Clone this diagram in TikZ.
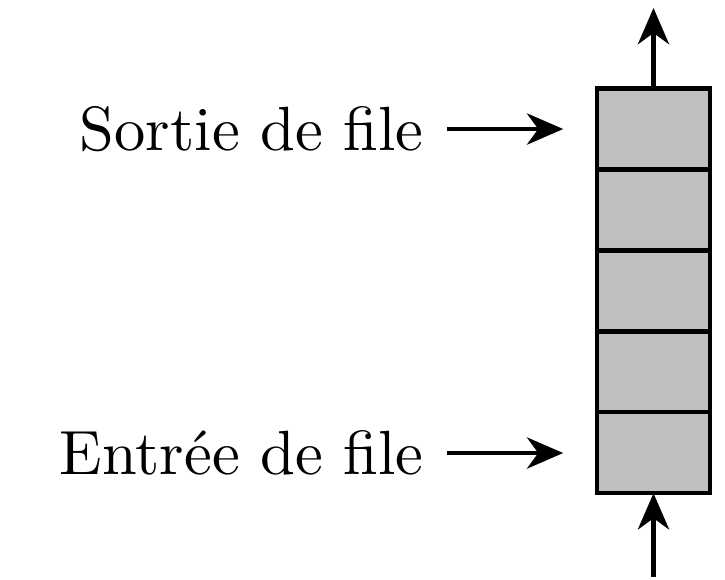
\documentclass[tikz,border=0pt]{standalone}
\usetikzlibrary{arrows.meta}
\begin{document}
\begin{tikzpicture}[x=0.16pt,y=-0.16pt,
  cell/.style={draw=black,fill=black!25,line width=0.7pt,minimum width=18.1pt,minimum height=12.95pt,inner sep=0pt,outer sep=0pt},
  arr/.style={line width=0.65pt,-{Stealth[length=5.8pt,width=5pt,inset=1.8pt]}},
  lbl/.style={inner sep=0pt,anchor=east}]
\useasboundingbox (0,0) rectangle (725,579);
\node[cell] (c1) at (653.5,129) {};
\node[cell,anchor=north] (c2) at (c1.south) {};
\node[cell,anchor=north] (c3) at (c2.south) {};
\node[cell,anchor=north] (c4) at (c3.south) {};
\node[cell,anchor=north] (c5) at (c4.south) {};
\node[lbl] (s) at (425,129) {Sortie de file};
\node[lbl] (e) at (425,453) {Entr\'ee de file};
\draw[arr,shorten <=3.5pt,shorten >=5.4pt] (s.east) -- (s.east -| c1.west);
\draw[arr,shorten <=3.5pt,shorten >=5.4pt] (e.east) -- (e.east -| c5.west);
\coordinate (top) at (653.5,8);
\coordinate (bot) at (653.5,577);
\draw[arr] (c1.north) -- (top);
\draw[arr] (bot) -- (c5.south);
\end{tikzpicture}
\end{document}
